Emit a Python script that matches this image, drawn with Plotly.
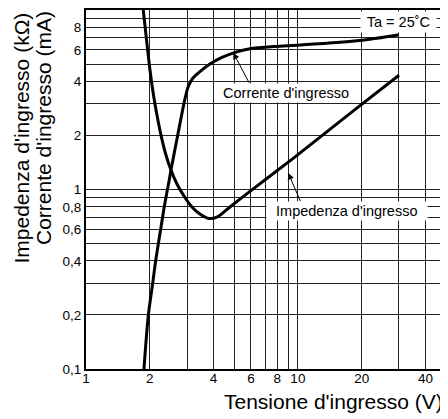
import math
import plotly.graph_objects as go

# ---- data ----
current_v = [1.877, 1.967, 2.064, 2.132, 2.251, 2.341, 2.471, 2.518, 2.716, 2.915, 3.044, 3.197,
             3.449, 3.846, 4.381, 5.099, 5.937, 7.79, 10.22, 19.61, 29.73]
current_ma = [0.1, 0.198, 0.300, 0.401, 0.600, 0.802, 1.129, 1.284, 2.038, 3.11, 3.77, 4.18,
              4.54, 5.00, 5.44, 5.83, 6.08, 6.26, 6.38, 6.76, 7.26]

imped_v = [1.863, 1.930, 2.004, 2.082, 2.162, 2.259, 2.384, 2.518, 2.687, 2.900, 3.162, 3.449,
           3.803, 4.195, 4.778, 5.94, 9.5, 18.9, 30]
imped_kohm = [10.0, 6.81, 4.63, 3.36, 2.60, 2.01, 1.557, 1.284, 1.073, 0.920, 0.799, 0.730,
              0.689, 0.707, 0.799, 0.976, 1.49, 2.83, 4.33]

x_tickvals = [1, 2, 3, 4, 5, 6, 7, 8, 9, 10, 20, 30, 40]
x_ticktext = ["1", "2", "", "4", "", "6", "", "8", "", "10", "20", "", "40"]
y_tickvals = [0.1, 0.2, 0.3, 0.4, 0.5, 0.6, 0.7, 0.8, 0.9, 1, 2, 3, 4, 5, 6, 7, 8, 9, 10]
y_ticktext = ["0,1", "0,2", "", "0,4", "", "0,6", "", "0,8", "", "1", "2", "", "4", "", "6", "", "8", "", ""]

FONT = "Liberation Sans, Arial, Helvetica, sans-serif"
L = math.log10

# page has an 8px body margin; figure sized so it fills the 448x419 window
PLOT_W = 360.0
PLOT_H = 359.0

fig = go.Figure()
fig.add_trace(go.Scatter(x=current_v, y=current_ma, mode="lines",
                         line=dict(color="black", width=3, shape="spline", smoothing=0.7),
                         name="Corrente d'ingresso", hoverinfo="skip"))
fig.add_trace(go.Scatter(x=imped_v, y=imped_kohm, mode="lines",
                         line=dict(color="black", width=3, shape="spline", smoothing=0.7),
                         name="Impedenza d'ingresso", hoverinfo="skip"))

fig.update_xaxes(type="log", range=[0, L(50)], tickmode="array",
                 tickvals=x_tickvals, ticktext=x_ticktext,
                 showgrid=True, gridcolor="#222", gridwidth=1,
                 showline=True, linecolor="black", linewidth=2, mirror=True,
                 ticks="", ticklabelstandoff=-4,
                 tickfont=dict(family=FONT, size=13.5, color="black"),
                 zeroline=False)
fig.update_yaxes(type="log", range=[-1, 1], tickmode="array",
                 tickvals=y_tickvals, ticktext=y_ticktext,
                 showgrid=True, gridcolor="#222", gridwidth=1,
                 showline=True, linecolor="black", linewidth=2, mirror=True,
                 ticks="", tickfont=dict(family=FONT, size=13.5, color="black"),
                 zeroline=False)

annots = []
annots.append(dict(x=L(8.78), y=L(3.44), xref="x", yref="y", text=" Corrente d'ingresso ",
                   showarrow=False, bgcolor="white", borderpad=1,
                   font=dict(family=FONT, size=14.5, color="black")))
annots.append(dict(x=L(17.0), y=L(0.762), xref="x", yref="y", text="  Impedenza d'ingresso  ",
                   showarrow=False, bgcolor="white", borderpad=1,
                   font=dict(family=FONT, size=14.5, color="black")))
annots.append(dict(x=L(30.0), y=L(8.57), xref="x", yref="y", text=" Ta = 25˚C ",
                   showarrow=False, bgcolor="white", borderpad=2,
                   font=dict(family=FONT, size=14.5, color="black")))
annots.append(dict(x=L(4.95), y=L(5.78), xref="x", yref="y", text=" ", font=dict(size=1),
                   showarrow=True, arrowhead=2, arrowsize=1.3, arrowwidth=1, arrowcolor="black",
                   ax=17, ay=32, standoff=0))
annots.append(dict(x=L(9.0), y=L(1.236), xref="x", yref="y", text=" ", font=dict(size=1),
                   showarrow=True, arrowhead=2, arrowsize=1.3, arrowwidth=1, arrowcolor="black",
                   ax=13, ay=30, standoff=0))
annots.append(dict(x=(20.5 - 86) / PLOT_W, y=(369 - 138) / PLOT_H, xref="paper", yref="paper",
                   xanchor="center", yanchor="middle", textangle=-90,
                   text="Impedenza d'ingresso (kΩ)",
                   showarrow=False, font=dict(family=FONT, size=21, color="black")))
annots.append(dict(x=(43 - 86) / PLOT_W, y=(369 - 128) / PLOT_H, xref="paper", yref="paper",
                   xanchor="center", yanchor="middle", textangle=-90,
                   text="Corrente d'ingresso (mA)",
                   showarrow=False, font=dict(family=FONT, size=21, color="black")))
annots.append(dict(x=1.0 - 1 / PLOT_W, y=-32 / PLOT_H, xref="paper", yref="paper",
                   xanchor="right", yanchor="middle", text="Tensione d'ingresso (V)",
                   showarrow=False, font=dict(family=FONT, size=21, color="black")))

fig.update_layout(
    width=440, height=411,
    margin=dict(l=78, r=2, t=2, b=50, autoexpand=False),
    paper_bgcolor="white", plot_bgcolor="white",
    showlegend=False,
    annotations=annots,
)

fig.write_html("out.html")
